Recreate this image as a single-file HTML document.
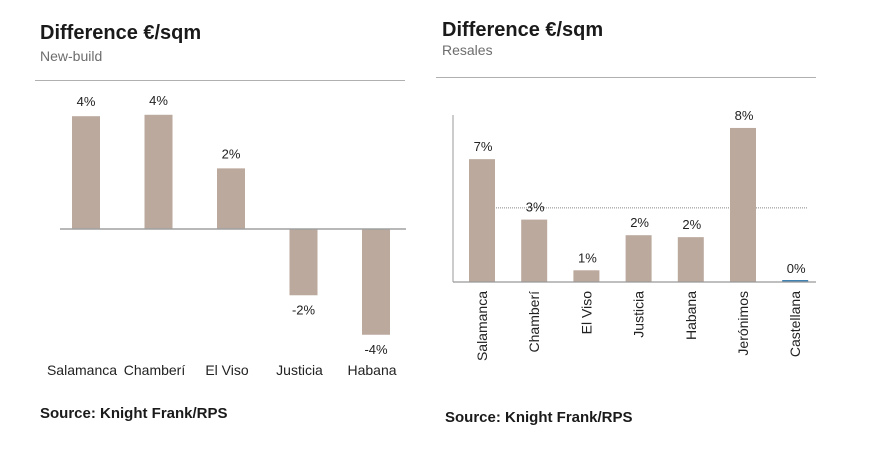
<!DOCTYPE html>
<html><head><meta charset="utf-8"><style>
body{margin:0;width:890px;height:460px;background:#fff;overflow:hidden;font-family:"Liberation Sans",sans-serif}
svg{display:block}
</style></head><body>
<svg width="890" height="460" id="svg">
<text x="40" y="39" font-size="20" font-weight="bold" fill="#1a1a1a">Difference €/sqm</text>
<text x="40" y="61" font-size="14" fill="#6d6d6d">New-build</text>
<line x1="35" y1="80.5" x2="405" y2="80.5" stroke="#b0b0b0"/>
<text x="40" y="418" font-size="15" font-weight="bold" fill="#1a1a1a">Source: Knight Frank/RPS</text>
<text x="442" y="36" font-size="20" font-weight="bold" fill="#1a1a1a">Difference €/sqm</text>
<text x="442" y="55" font-size="14" fill="#6d6d6d">Resales</text>
<line x1="436" y1="77.5" x2="816" y2="77.5" stroke="#b0b0b0"/>
<text x="445" y="422" font-size="15" font-weight="bold" fill="#1a1a1a">Source: Knight Frank/RPS</text>
<g id="left"></g><g id="right"></g>
</svg>
<script>
const leftCategories=["Salamanca","Chamberí","El Viso","Justicia","Habana"];
const leftValues=[4.0,4.05,2.15,-2.35,-3.75];
const leftLabels=["4%","4%","2%","-2%","-4%"];
const rightCategories=["Salamanca","Chamberí","El Viso","Justicia","Habana","Jerónimos","Castellana"];
const rightValues=[6.3,3.2,0.6,2.4,2.3,7.9,0.05];
const rightLabels=["7%","3%","1%","2%","2%","8%","0%"];
const rightAverage=[3.8];

const NS="http://www.w3.org/2000/svg";
function mk(t,a,p){const e=document.createElementNS(NS,t);for(const k in a)e.setAttribute(k,a[k]);p.appendChild(e);return e;}
// left chart
const L=document.getElementById('left');
const ly0=229, lscale=28.2;
const ly=v=>ly0-v*lscale;
const lx=i=>86+i*72.5;
leftValues.forEach((v,i)=>{
  const top=Math.min(ly(v),ly0), h=Math.abs(ly(v)-ly0);
  const r=mk('rect',{x:lx(i)-14,y:top,width:28,height:h,fill:'#bba99d'},L);
  
  
  const t=mk('text',{x:lx(i),y:v>=0?ly(v)-10:ly(v)+19,'font-size':13,'text-anchor':'middle',fill:'#222'},L);
  t.textContent=leftLabels[i];
  
  
  const c=mk('text',{x:lx(i)-4,y:375,'font-size':14,'text-anchor':'middle',fill:'#222'},L);
  c.textContent=leftCategories[i];
  
  
});
const lz=mk('line',{x1:60,y1:ly0,x2:406,y2:ly0,stroke:'#a0a0a0','stroke-width':1.5},L);


// right chart
const R=document.getElementById('right');
const ry0=282, rscale=19.5;
const ry=v=>ry0-v*rscale;
const rx=i=>482+i*52.2;
const avg=mk('line',{x1:494,y1:ry(rightAverage[0]),x2:807,y2:ry(rightAverage[0]),stroke:'#888','stroke-dasharray':'1,1'},R);


rightValues.forEach((v,i)=>{
  const last=i===rightValues.length-1;
  const r=mk('rect',{x:rx(i)-13,y:ry(v)-(last?1:0),width:26,height:Math.max(ry0-ry(v),last?2:0),fill:last?'#3b7fb0':'#bba99d'},R);
  
  
  const t=mk('text',{x:rx(i)+1,y:ry(v)-8,'font-size':13,'text-anchor':'middle',fill:'#222'},R);
  t.textContent=rightLabels[i];
  
  
  const c=mk('text',{x:0,y:0,'font-size':14,'text-anchor':'end',fill:'#222',transform:'translate('+(rx(i)+5)+',291) rotate(-90)'},R);
  c.textContent=rightCategories[i];
  
  
});
const ax=mk('line',{x1:453,y1:115,x2:453,y2:ry0,stroke:'#999'},R);


const bx=mk('line',{x1:453,y1:ry0,x2:816,y2:ry0,stroke:'#999','stroke-width':1.2},R);


</script>
</body></html>
